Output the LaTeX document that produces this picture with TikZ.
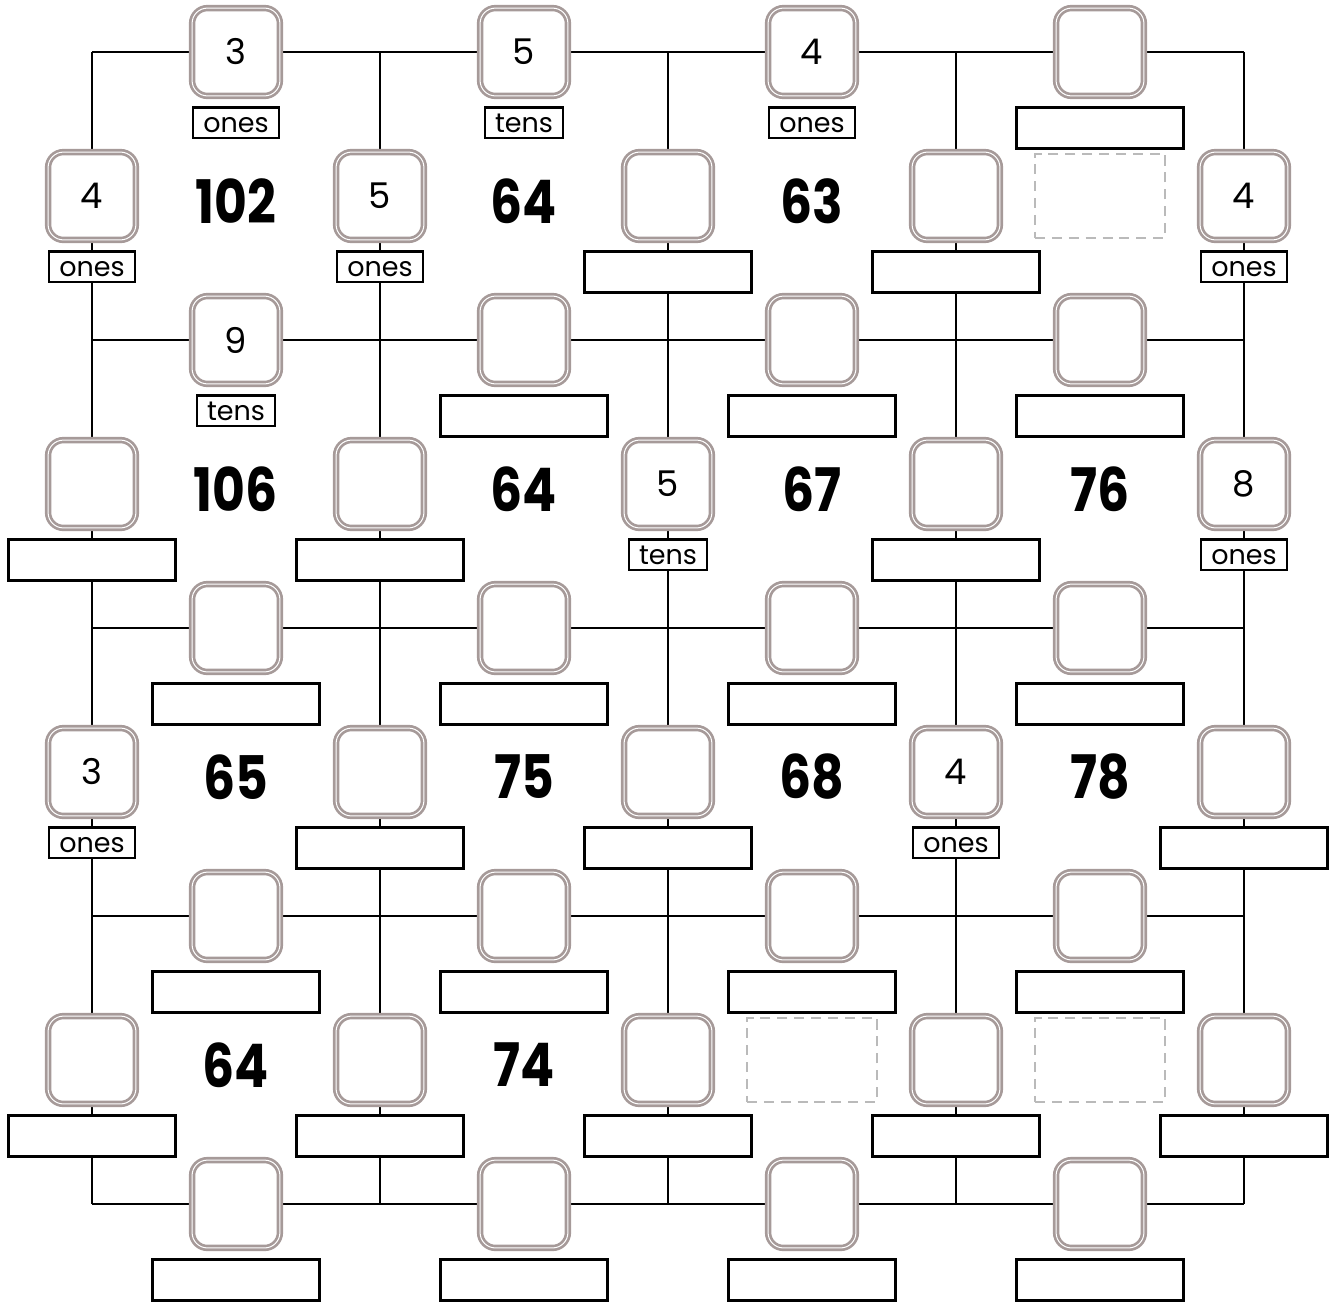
\documentclass[tikz,border=0pt]{standalone}
\usepackage{fontspec}
\setmainfont{Poppins}
\newfontfamily\bignumfont[FakeStretch=0.84,Numbers=Proportional]{Poppins}
\usetikzlibrary{positioning}
\definecolor{tilegray}{RGB}{166,154,153}
\definecolor{hintgray}{RGB}{186,186,186}

\begin{document}
\begin{tikzpicture}[
  tile/.style={draw=tilegray, double=white, double distance=0.3pt, line width=0.8pt,
    fill=white, rounded corners=0.16cm, minimum size=0.915cm, inner sep=0pt, outer sep=0pt,
    font=\fontsize{10.5}{10.5}\selectfont},
  tag/.style={draw, line width=0.75pt, fill=white, minimum height=0.32cm, inner xsep=3pt,
    inner ysep=0pt, outer sep=0pt, text height=1ex, text depth=0pt,
    font=\fontsize{8}{8}\selectfont},
  blank/.style={draw, line width=0.75pt, fill=white, minimum width=1.735cm,
    minimum height=0.43cm, outer sep=0pt},
  hint/.style={draw=hintgray, dash pattern=on 3pt off 2pt, line width=0.65pt,
    minimum width=1.354cm, minimum height=0.875cm},
  total/.style={font=\bignumfont\bfseries\fontsize{17.8}{17.8}\selectfont},
  gridline/.style={line width=0.6pt}
]
\useasboundingbox (-0.9583,-1.0521) rectangle (12.9063,12.5417);

% Grid corners and lines
\foreach \i in {0,...,4} {
  \foreach \j in {0,...,4} {
    \coordinate (g-\i-\j) at ({3*\i},{3*\j});
  }
}
\foreach \k in {0,...,4} {
  \draw[gridline] (g-0-\k) -- (g-4-\k);
  \draw[gridline] (g-\k-0) -- (g-\k-4);
}

% Tiles on horizontal lines, given
\foreach \i/\j/\n/\u in {0/4/3/ones, 1/4/5/tens, 2/4/4/ones, 0/3/9/tens} {
  \node[tile] (h-\i-\j) at ({3*\i+1.5},{3*\j}) {\n};
  \node[tag, below=0.12cm of h-\i-\j] (h-\i-\j-tag) {\u};
}
% Tiles on horizontal lines, empty
\foreach \i/\j in {3/4, 1/3, 2/3, 3/3, 0/2, 1/2, 2/2, 3/2,
    0/1, 1/1, 2/1, 3/1, 0/0, 1/0, 2/0, 3/0} {
  \node[tile] (h-\i-\j) at ({3*\i+1.5},{3*\j}) {};
  \node[blank, below=0.12cm of h-\i-\j] (h-\i-\j-tag) {};
}

% Tiles on vertical lines, given
\foreach \i/\j/\n/\u in {0/3/4/ones, 1/3/5/ones, 4/3/4/ones, 2/2/5/tens,
    4/2/8/ones, 0/1/3/ones, 3/1/4/ones} {
  \node[tile] (v-\i-\j) at ({3*\i},{3*\j+1.5}) {\n};
  \node[tag, below=0.12cm of v-\i-\j] (v-\i-\j-tag) {\u};
}
% Tiles on vertical lines, empty
\foreach \i/\j in {2/3, 3/3, 0/2, 1/2, 3/2, 1/1, 2/1, 4/1,
    0/0, 1/0, 2/0, 3/0, 4/0} {
  \node[tile] (v-\i-\j) at ({3*\i},{3*\j+1.5}) {};
  \node[blank, below=0.12cm of v-\i-\j] (v-\i-\j-tag) {};
}

% Cell totals
\foreach \i/\j/\val in {0/3/102, 1/3/64, 2/3/63, 0/2/106, 1/2/64, 2/2/67, 3/2/76,
    0/1/65, 1/1/75, 2/1/68, 3/1/78, 0/0/64, 1/0/74} {
  \node[total] (sum-\i-\j) at ({3*\i+1.5},{3*\j+1.45}) {\val};
}
\foreach \i/\j in {3/3, 2/0, 3/0} {
  \node[hint] (hint-\i-\j) at ({3*\i+1.5},{3*\j+1.5}) {};
}
\end{tikzpicture}
\end{document}
